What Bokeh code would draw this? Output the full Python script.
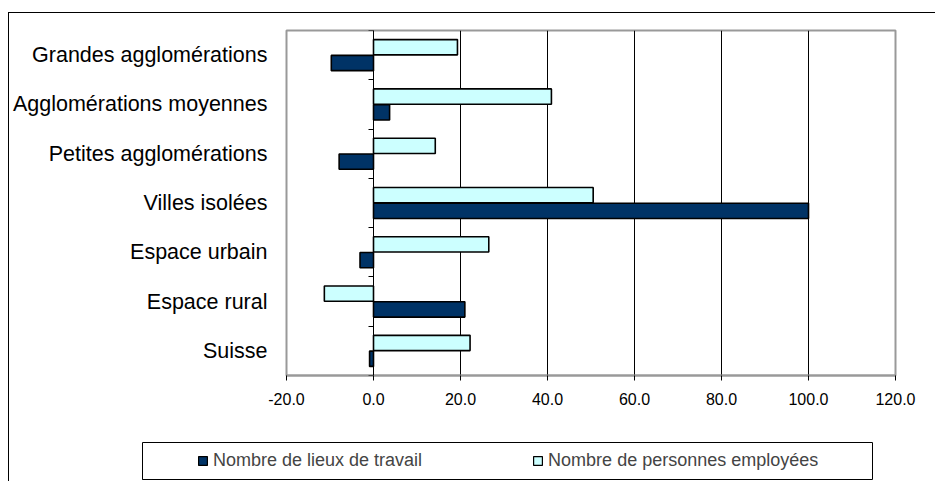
from bokeh.plotting import figure
from bokeh.layouts import column
from bokeh.models import (Range1d, LinearAxis, FixedTicker, Legend, LegendItem,
                          NumeralTickFormatter, ColumnDataSource, CustomJSTickFormatter)
from bokeh.embed import file_html
from bokeh.resources import INLINE

categories = ["Grandes agglomérations", "Agglomérations moyennes", "Petites agglomérations",
              "Villes isolées", "Espace urbain", "Espace rural", "Suisse"]
lieux_de_travail = [-9.7, 3.7, -7.9, 100.0, -3.1, 21.0, -0.9]
personnes_employees = [19.3, 40.9, 14.2, 50.5, 26.5, -11.3, 22.2]
x_ticks = [-20, 0, 20, 40, 60, 80, 100, 120]
series_names = ["Nombre de lieux de travail", "Nombre de personnes employées"]

FONT = "Liberation Sans"
DARK = "#003366"
LIGHT = "#CCFFFF"
n = len(categories)
pos = [n - 1 - i for i in range(n)]  # category slots, first at top
OFF = 0.16

src = ColumnDataSource(dict(cat=categories, lieux=lieux_de_travail, pers=personnes_employees,
                            y_pers=[v + OFF for v in pos], y_lieux=[v - OFF for v in pos]))

p = figure(width=926, height=429, output_backend="svg", toolbar_location=None,
           y_range=Range1d(-0.5, n - 0.5), x_range=Range1d(x_ticks[0], x_ticks[-1]),
           y_axis_location=None, frame_align=False,
           min_border_left=276, min_border_right=40, min_border_top=17, min_border_bottom=67)

r_light = p.hbar(y="y_pers", left=0, right="pers", height=0.31,
                 source=src, fill_color=LIGHT, line_color="black", line_width=1.6)
r_dark = p.hbar(y="y_lieux", left=0, right="lieux", height=0.31,
                source=src, fill_color=DARK, line_color="black", line_width=1.6)

p.outline_line_color = "#999999"
p.outline_line_width = 2
p.ygrid.visible = False
p.xgrid.ticker = FixedTicker(ticks=x_ticks)
p.xgrid.grid_line_color = "black"
p.xgrid.grid_line_width = 1

xa = p.xaxis[0]
xa.ticker = FixedTicker(ticks=x_ticks)
xa.formatter = NumeralTickFormatter(format="0.0")
xa.axis_line_color = "#999999"
xa.axis_line_width = 2
xa.major_tick_line_color = "black"
xa.major_tick_out = 5
xa.major_tick_in = 0
xa.minor_tick_line_color = None
xa.major_label_text_font = FONT
xa.major_label_text_font_size = "16px"
xa.major_label_text_color = "black"
xa.major_label_standoff = 12

ya = LinearAxis(ticker=FixedTicker(ticks=pos),
                major_label_overrides={v: c for v, c in zip(pos, categories)},
                axis_line_color=None, major_tick_line_color=None, minor_tick_line_color=None,
                major_label_text_font=FONT, major_label_text_font_size="21.5px",
                major_label_text_color="black", major_label_standoff=13)
p.add_layout(ya, "left")

# category-boundary ticks on the vertical axis that crosses at 0
bounds = [v - 0.5 for v in range(n + 1)]
zero_axis = LinearAxis(ticker=FixedTicker(ticks=bounds),
                       formatter=CustomJSTickFormatter(code="return ''"),
                       fixed_location=0, major_tick_in=5, major_tick_out=0,
                       minor_tick_line_color=None, axis_line_color="black",
                       major_tick_line_color="black", major_label_text_font_size="8px",
                       major_label_standoff=0)
p.add_layout(zero_axis, "right")

# legend strip: its frame is the legend box; the series are drawn out of its view,
# so only their legend swatches show
lg = figure(width=926, height=39, output_backend="svg", toolbar_location=None,
            x_range=Range1d(1000, 1001), y_range=Range1d(1000, 1001), frame_align=False,
            x_axis_location=None, y_axis_location=None,
            min_border_left=133, min_border_right=63, min_border_top=0, min_border_bottom=2)
lg.grid.visible = False
lg.outline_line_color = "black"
lg.outline_line_width = 1
g_dark = lg.hbar(y="y_lieux", left=0, right="lieux", height=0.31, source=src,
                 fill_color=DARK, line_color="black", line_width=1.2)
g_light = lg.hbar(y="y_pers", left=0, right="pers", height=0.31, source=src,
                  fill_color=LIGHT, line_color="black", line_width=1.2)
legend = Legend(items=[LegendItem(label=series_names[0], renderers=[g_dark]),
                       LegendItem(label=series_names[1], renderers=[g_light])],
                orientation="horizontal", location=(55, 8), padding=0, margin=0,
                spacing=110, glyph_width=11, glyph_height=11, label_standoff=5, label_height=21,
                label_text_font=FONT, label_text_font_size="18px",
                border_line_color=None, background_fill_alpha=0)
lg.add_layout(legend, "center")

page = column(p, lg, spacing=0, margin=(12, 0, 0, 8),
              styles={"border-left": "1px solid black", "border-top": "1px solid black"})

open("out.html", "w").write(file_html(page, INLINE))
